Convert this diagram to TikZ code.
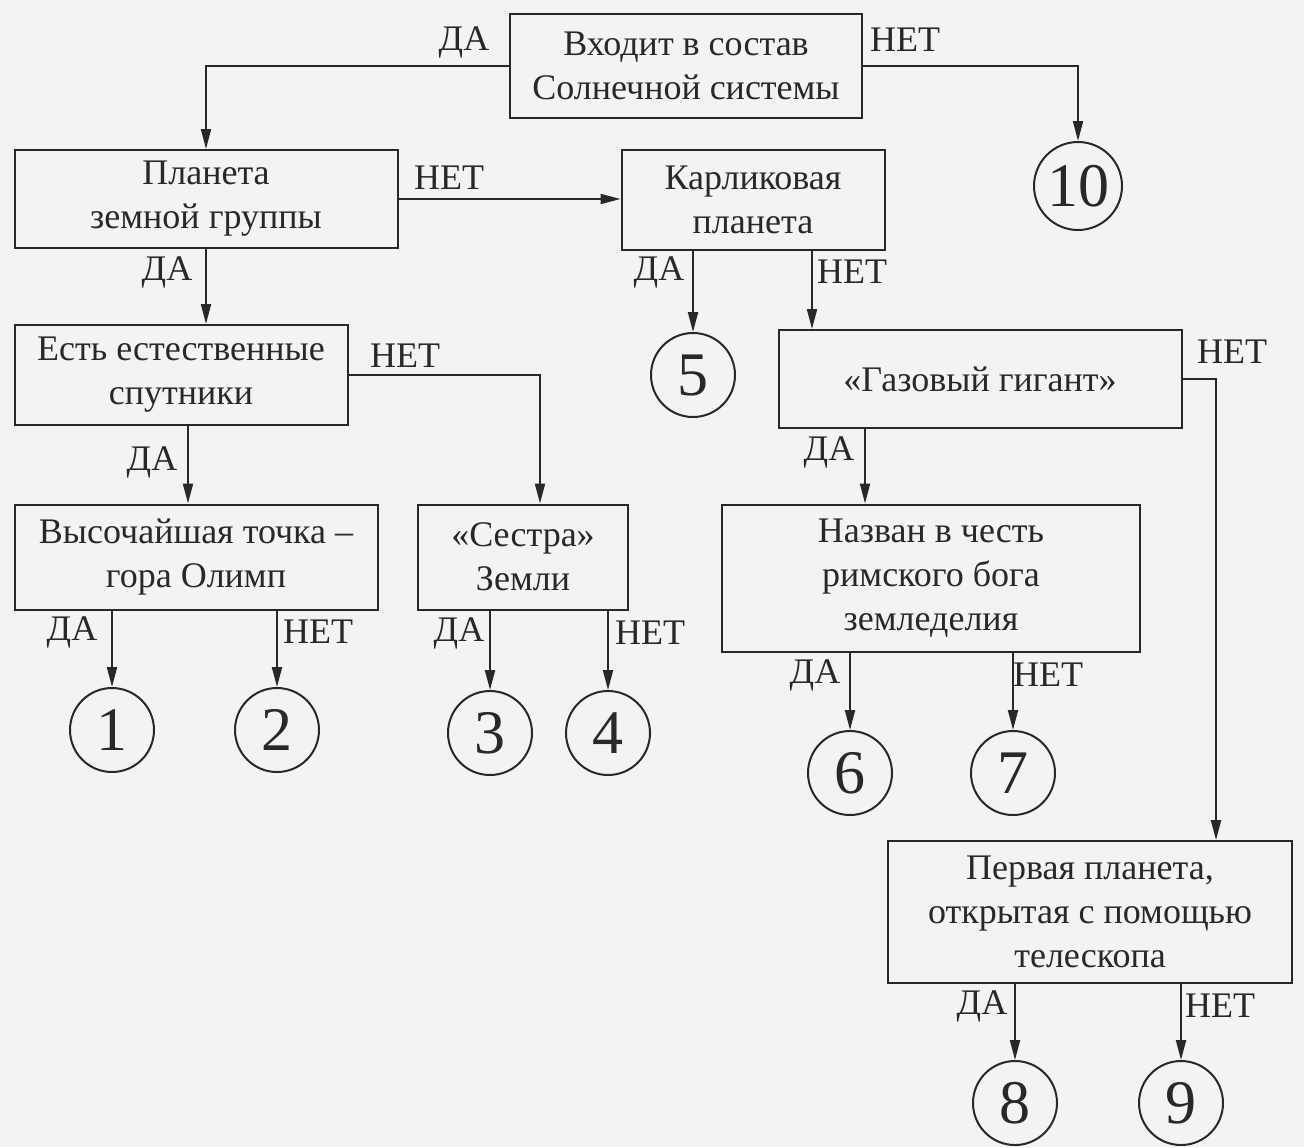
\documentclass[tikz,border=0pt]{standalone}
\usepackage{fontspec}
\setmainfont{Liberation Serif}
\usetikzlibrary{arrows.meta,calc}
\definecolor{bg}{RGB}{243,243,241}
\definecolor{ink}{RGB}{40,40,40}
\begin{document}
\begin{tikzpicture}[x=0.5pt,y=-0.5pt,
  box/.style={draw=ink,line width=1pt,align=center,inner sep=0pt,text=ink,font=\fontsize{18}{22}\selectfont},
  num/.style={circle,draw=ink,line width=1pt,minimum size=42pt,inner sep=0pt,text=ink,font=\fontsize{31}{31}\selectfont},
  lab/.style={inner sep=0pt,text=ink,font=\fontsize{18}{22}\selectfont},
  arr/.style={draw=ink,line width=1pt,-{Triangle[length=10pt,width=5pt]}}]
\useasboundingbox[fill=bg] (0,0) rectangle (1304,1147);
% boxes
\node[box,minimum width=176pt,minimum height=52pt] (top) at (686,66) {Входит в состав\\Солнечной системы};
\node[box,minimum width=191.5pt,minimum height=49pt] (plan) at (206,199) {Планета\\земной группы};
\node[box,minimum width=131.5pt,minimum height=50pt] (karl) at (753,200) {Карликовая\\планета};
\node[box,minimum width=166.5pt,minimum height=50pt] (est) at (181,375) {Есть естественные\\спутники};
\node[box,minimum width=201.5pt,minimum height=49pt] (gaz) at (980,379) {«Газовый гигант»};
\node[box,minimum width=181.5pt,minimum height=52.5pt] (vys) at (196,557) {Высочайшая точка –\\гора Олимп};
\node[box,minimum width=105pt,minimum height=52.5pt] (ses) at (523,557) {«Сестра»\\Земли};
\node[box,minimum width=209pt,minimum height=73.5pt] (naz) at (931,578) {Назван в честь\\римского бога\\земледелия};
\node[box,minimum width=202pt,minimum height=71pt] (perv) at (1090,912) {Первая планета,\\открытая с помощью\\телескопа};
% circles
\node[num,minimum size=44pt] (c10) at (1078,186) {10};
\node[num] (c5) at (693,375) {5};
\node[num] (c1) at (112,730) {1};
\node[num] (c2) at (277,730) {2};
\node[num] (c3) at (490,733) {3};
\node[num] (c4) at (608,733) {4};
\node[num] (c6) at (850,773) {6};
\node[num] (c7) at (1013,773) {7};
\node[num] (c8) at (1015,1103) {8};
\node[num] (c9) at (1181,1103) {9};
% connectors
\draw[arr] (top.west) -| (plan);
\draw[arr] (top.east) -| (c10);
\draw[arr] (plan.east) -- (plan.east -| karl.west);
\draw[arr] (plan.south) -- (plan.south |- est.north);
\draw[arr] (karl.south -| c5) -- (c5);
\coordinate (k2) at ($(karl.south)+(59,0)$);
\draw[arr] (k2) -- (k2 |- gaz.north);
\coordinate (e1) at ($(est.south)+(7,0)$);
\draw[arr] (e1) -- (e1 |- vys.north);
\coordinate (s1) at ($(ses.north)+(17,0)$);
\draw[arr] (est.east) -| (s1);
\coordinate (g1) at ($(gaz.south)+(-115,0)$);
\draw[arr] (g1) -- (g1 |- naz.north);
\coordinate (p1) at ($(perv.north)+(126,0)$);
\draw[arr] (gaz.east) -| (p1);
\draw[arr] (vys.south -| c1) -- (c1);
\draw[arr] (vys.south -| c2) -- (c2);
\draw[arr] (ses.south -| c3) -- (c3);
\draw[arr] (ses.south -| c4) -- (c4);
\draw[arr] (naz.south -| c6) -- (c6);
\draw[arr] (naz.south -| c7) -- (c7);
\draw[arr] (perv.south -| c8) -- (c8);
\draw[arr] (perv.south -| c9) -- (c9);
% labels
\node[lab] (l1) at (464,42) {ДА};
\node[lab] (l2) at (905,40) {НЕТ};
\node[lab] (l3) at (449,178) {НЕТ};
\node[lab] (l4) at (167,272) {ДА};
\node[lab] (l5) at (659,272) {ДА};
\node[lab] (l6) at (852,272) {НЕТ};
\node[lab] (l7) at (152,462) {ДА};
\node[lab] (l8) at (405,356) {НЕТ};
\node[lab] (l9) at (829,452) {ДА};
\node[lab] (l10) at (1232,352) {НЕТ};
\node[lab] (l11) at (72,632) {ДА};
\node[lab] (l12) at (318,632) {НЕТ};
\node[lab] (l13) at (459,633) {ДА};
\node[lab] (l14) at (650,633) {НЕТ};
\node[lab] (l15) at (815,675) {ДА};
\node[lab] (l16) at (1048,675) {НЕТ};
\node[lab] (l17) at (982,1006) {ДА};
\node[lab] (l18) at (1220,1006) {НЕТ};
\end{tikzpicture}
\end{document}
